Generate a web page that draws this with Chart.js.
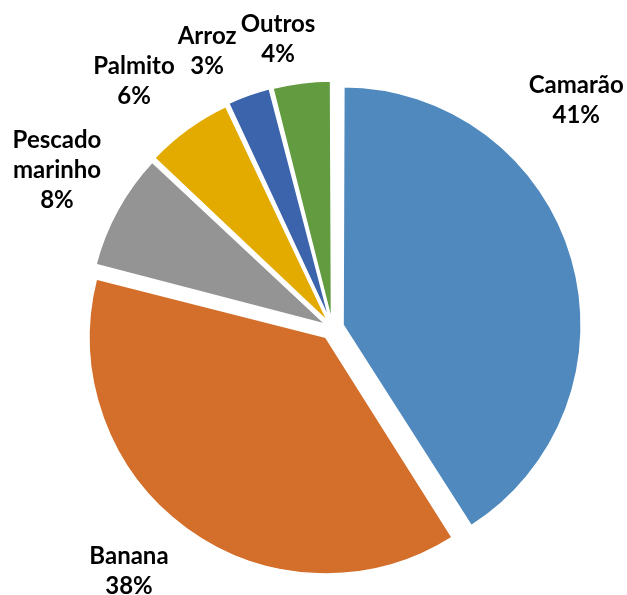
<!DOCTYPE html>
<html>
<head>
<meta charset="utf-8">
<script src="https://cdn.jsdelivr.net/npm/chart.js@4"></script>
<style>
  html, body { margin: 0; padding: 0; background: #fff; }
</style>
</head>
<body>
<canvas id="chart" width="627" height="595"></canvas>
<script>
const categories = ['Camarão', 'Banana', 'Pescado marinho', 'Palmito', 'Arroz', 'Outros'];
const labelLines = [['Camarão'], ['Banana'], ['Pescado', 'marinho'], ['Palmito'], ['Arroz'], ['Outros']];
const shares = [41, 38, 8, 6, 3, 4];
const colors = ['#4F89BD', '#D36F2B', '#949494', '#E3AB00', '#3B64AD', '#629B40'];

// labels sit outside the pie, placed like Excel's "best fit"
const outsideLabels = {
  id: 'outsideLabels',
  afterDatasetsDraw(chart, args, opts) {
    const ctx = chart.ctx;
    const meta = chart.getDatasetMeta(0);
    ctx.save();
    ctx.font = opts.font;
    ctx.fillStyle = opts.color;
    ctx.textAlign = 'center';
    ctx.textBaseline = 'alphabetic';
    meta.data.forEach((arc, i) => {
      const [deg, k] = opts.placement[i];
      const a = deg * Math.PI / 180;
      const cx = arc.x + Math.sin(a) * arc.outerRadius * k;
      const cy = arc.y - Math.cos(a) * arc.outerRadius * k;
      const lines = labelLines[i].concat(shares[i] + '%');
      const h = (lines.length - 1) * opts.lineHeight + opts.capHeight;
      let y = cy - h / 2 + opts.capHeight;
      lines.forEach(t => {
        ctx.fillText(t, cx, y);
        y += opts.lineHeight;
      });
    });
    ctx.restore();
  }
};

new Chart(document.getElementById('chart'), {
  type: 'pie',
  data: {
    labels: categories,
    datasets: [{
      data: shares,
      backgroundColor: colors,
      borderColor: '#ffffff',
      borderWidth: 1.5,
      // big slices pulled out further than the small group
      offset: [44, 46, 32, 32, 32, 32],
      radius: 233
    }]
  },
  options: {
    responsive: false,
    animation: false,
    layout: { padding: { left: 38, top: 61, right: 0, bottom: 0 } },
    plugins: {
      legend: { display: false },
      tooltip: { enabled: false },
      outsideLabels: {
        font: 'bold 24px Lato',
        color: '#000000',
        lineHeight: 30,
        capHeight: 17.5,
        placement: [[46.8, 1.435], [220.0, 1.359], [299.9, 1.364], [321.25, 1.361], [335.7, 1.308], [349.35, 1.265]]
      }
    }
  },
  plugins: [outsideLabels]
});
</script>
</body>
</html>
